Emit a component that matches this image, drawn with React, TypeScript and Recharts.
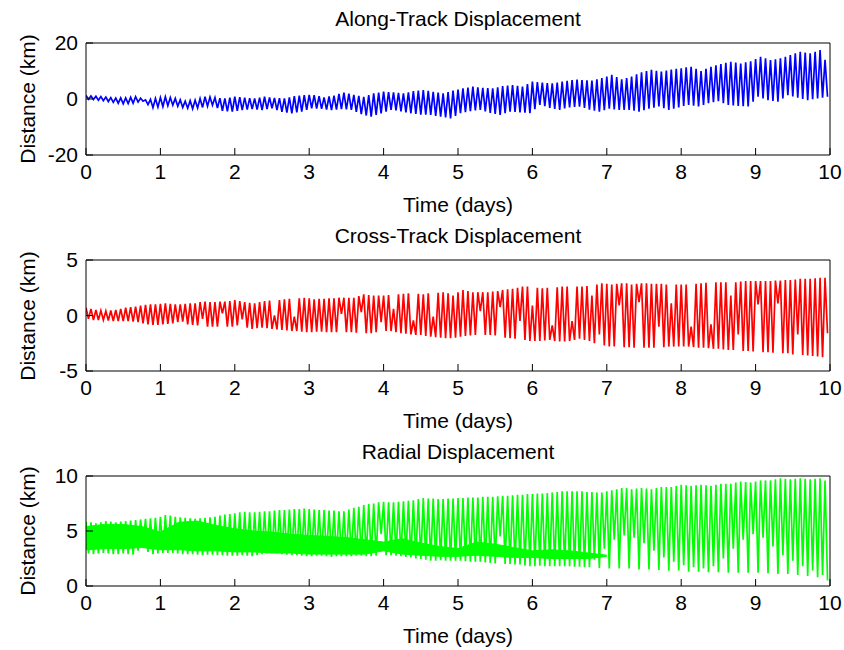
import { ComposedChart, Line, Area, XAxis, YAxis } from "recharts";

// tick labels
const dayTicks = [0, 1, 2, 3, 4, 5, 6, 7, 8, 9, 10];
const alongTicks = [-20, 0, 20];
const crossTicks = [-5, 0, 5];
const radialTicks = [0, 5, 10];

// one orbit = 1/15 day; per orbit the peak and the trough (km), 150 orbits
const alongHigh = [
  1.3, 1.1, 1.0, 0.9, 0.7, 0.5, 0.3, 0.4, 0.4, 0.6,
  0.8, 0.3, -0.3, -0.1, 0.2, 0.5, 0.8, 0.5, 0.2, -0.3,
  -0.8, -0.6, -0.4, 0.2, 0.8, 0.7, 0.5, 0.3, 0.2, 0.5,
  0.8, 0.7, 0.5, 0.3, 0.2, 0.5, 0.8, 0.6, 0.4, 0.3,
  0.2, 0.6, 1.0, 1.2, 1.4, 1.5, 1.4, 1.0, 0.6, 0.9,
  1.2, 1.8, 2.3, 1.9, 1.5, 1.1, 0.8, 1.4, 2.0, 2.3,
  2.6, 2.5, 2.4, 2.2, 2.0, 2.4, 2.8, 3.0, 3.2, 2.9,
  2.6, 2.3, 2.0, 2.5, 3.0, 3.4, 3.8, 4.1, 4.4, 4.2,
  4.0, 3.9, 3.8, 4.2, 4.6, 4.8, 5.0, 4.7, 4.4, 5.3,
  6.2, 6.0, 5.9, 5.7, 5.6, 5.9, 6.2, 6.5, 6.8, 6.9,
  6.8, 6.7, 6.6, 7.0, 7.5, 8.0, 8.6, 7.8, 7.0, 7.5,
  8.0, 8.8, 9.5, 10.0, 10.4, 10.1, 9.8, 10.2, 10.5, 10.8,
  11.0, 11.3, 11.5, 10.8, 10.0, 10.8, 11.5, 12.0, 12.5, 12.9,
  13.3, 13.0, 12.7, 13.1, 13.5, 14.3, 15.1, 14.5, 13.9, 14.2,
  14.5, 15.1, 15.7, 16.3, 16.9, 16.6, 16.3, 16.9, 17.5, 14.0,
];
const alongLow = [
  -0.1, -0.2, -0.4, -0.6, -0.9, -1.2, -1.5, -1.7, -1.6, -1.5,
  -1.1, -0.8, -2.0, -3.1, -2.9, -2.7, -2.4, -2.2, -2.6, -3.0,
  -3.3, -3.5, -3.2, -3.0, -2.6, -2.2, -3.2, -4.2, -4.4, -4.5,
  -4.2, -4.0, -3.8, -3.6, -3.8, -4.0, -3.6, -3.3, -4.0, -4.6,
  -4.9, -5.1, -4.8, -4.5, -3.9, -3.3, -3.4, -3.5, -3.8, -4.0,
  -3.8, -3.6, -3.7, -3.9, -4.6, -5.4, -5.9, -6.3, -5.7, -5.1,
  -4.5, -3.9, -4.1, -4.4, -4.8, -5.1, -5.3, -5.6, -5.6, -5.7,
  -6.0, -6.3, -6.6, -6.9, -6.0, -5.1, -4.7, -4.3, -4.1, -3.9,
  -4.4, -5.0, -5.3, -5.7, -5.1, -4.5, -4.6, -4.8, -4.9, -5.1,
  -3.6, -2.1, -2.6, -3.2, -3.5, -3.9, -3.4, -3.0, -2.8, -2.7,
  -3.2, -3.8, -4.2, -4.5, -4.0, -3.5, -3.7, -3.9, -3.9, -3.9,
  -4.2, -4.5, -4.0, -3.5, -3.1, -2.7, -3.3, -3.9, -3.5, -3.0,
  -2.5, -2.1, -2.4, -2.7, -2.1, -1.5, -1.1, -0.8, -1.5, -2.1,
  -2.3, -2.5, -2.6, -2.7, -1.0, 0.8, 0.2, -0.4, -0.7, -1.0,
  0.2, 1.4, 0.9, 0.5, 0.0, -0.4, -0.1, 0.2, 0.5, 0.8,
];

const crossHigh = [
  0.7, 0.6, 0.5, 0.45, 0.4, 0.45, 0.5, 0.6, 0.7, 0.75,
  0.8, 0.9, 0.95, 1.0, 1.0, 1.05, 1.1, 1.05, 1.0, 1.0,
  1.05, 1.1, 1.1, 1.2, 1.25, 1.2, 1.2, 1.25, 1.25, 1.3,
  1.4, 1.3, 1.2, 1.15, 1.1, 1.2, 1.3, 1.35, 0.0, 1.4,
  1.45, 1.5, -0.1, 1.55, 1.6, 1.55, 1.45, 1.5, 1.5, 1.55,
  1.55, 1.6, 1.6, 1.6, 1.6, 1.75, 1.9, 1.85, 1.8, 1.8,
  1.8, 1.85, 0.6, 1.9, 1.95, 2.0, -0.45, 1.95, 1.9, 2.0,
  -0.1, 2.05, 2.1, 2.0, 1.8, 2.1, 2.3, 2.2, 2.1, 2.1,
  2.1, 2.1, 2.15, 2.2, 2.3, 2.35, 2.4, 2.5, 2.6, 2.6,
  0.9, 2.5, 2.45, 2.5, -0.9, 2.55, 2.6, 2.6, -0.5, 2.6,
  2.6, 2.65, 1.8, 2.8, 2.9, 2.85, 2.8, 2.85, 2.9, 2.9,
  2.8, 2.85, 2.9, 2.9, 2.85, 2.85, 2.85, 2.8, 1.1, 2.8,
  2.8, 2.8, -1.0, 2.85, 2.9, 2.95, -0.8, 3.0, 3.0, 3.0,
  1.8, 3.0, 3.05, 3.1, 3.1, 3.1, 3.1, 3.1, 3.1, 3.15,
  3.15, 3.2, 3.2, 3.25, 3.3, 3.3, 3.3, 3.35, 3.4, 3.4,
];
const crossLow = [
  -0.3, -0.4, -0.4, -0.4, -0.45, -0.5, -0.5, -0.5, -0.5, -0.55,
  -0.6, -0.7, -0.8, -0.85, -0.85, -0.8, -0.75, -0.7, -0.6, -0.55,
  -0.8, -0.85, -0.9, -0.3, -1.0, -1.0, -1.0, 0.2, -1.0, -1.0,
  -0.9, -0.35, -1.1, -1.2, -1.15, -1.1, -1.15, -1.2, -1.25, -1.3,
  -1.35, -1.4, -1.4, -1.45, -1.5, -1.5, -1.45, -1.45, -1.5, -1.5,
  -1.5, 0.15, -1.5, -1.5, -1.55, 0.3, -1.6, -1.6, -1.5, -0.6,
  -1.4, -1.4, -1.5, -1.6, -1.65, -1.7, -1.75, -1.75, -1.85, -1.9,
  -1.95, -2.0, -2.05, -2.05, -2.0, -1.9, -1.85, -1.8, -1.75, 0.4,
  -1.75, -1.75, -1.8, 0.75, -2.0, -2.05, -2.1, -0.5, -2.2, -2.3,
  -2.3, -2.3, -2.25, -2.2, -2.3, -2.35, -2.35, -2.3, -2.2, -2.1,
  -2.2, -2.3, -2.5, -1.7, -2.7, -2.8, -2.8, 0.9, -2.85, -2.85,
  -2.9, 1.2, -2.9, -2.9, -2.9, -1.0, -2.85, -2.8, -2.8, -2.8,
  -2.8, -2.8, -2.85, -2.9, -2.9, -2.95, -3.0, -3.0, -3.05, -3.1,
  -3.1, -1.7, -3.2, -3.2, -3.25, 1.0, -3.3, -3.3, -3.35, 1.1,
  -3.4, -3.4, -3.5, -1.7, -3.55, -3.6, -3.65, -3.7, -3.75, -1.6,
];

const radialHigh = [
  5.85, 5.8, 5.7, 5.8, 5.9, 5.85, 5.8, 5.85, 5.9, 5.95,
  6.0, 6.05, 6.1, 6.15, 6.2, 6.3, 6.45, 6.4, 6.3, 6.25,
  6.2, 6.15, 6.1, 6.15, 6.2, 6.25, 6.3, 6.4, 6.5, 6.55,
  6.6, 6.7, 6.75, 6.7, 6.7, 6.75, 6.8, 6.8, 6.85, 6.9,
  6.9, 6.95, 7.0, 7.0, 7.05, 7.0, 6.95, 6.9, 6.9, 6.85,
  6.85, 6.8, 6.8, 6.95, 7.1, 7.2, 7.35, 7.45, 7.5, 7.6,
  7.65, 7.6, 7.6, 7.65, 7.7, 7.75, 7.8, 7.9, 8.0, 7.95,
  7.95, 7.9, 7.9, 7.95, 7.95, 8.0, 8.0, 8.05, 8.05, 8.05,
  8.1, 8.1, 8.1, 8.15, 8.2, 8.2, 8.25, 8.3, 8.3, 8.35,
  8.35, 8.4, 8.4, 8.45, 8.5, 8.55, 8.6, 8.6, 8.6, 8.6,
  8.6, 8.55, 8.55, 8.5, 8.5, 8.6, 8.7, 8.8, 8.9, 8.9,
  8.8, 8.85, 8.9, 8.85, 8.8, 8.9, 9.0, 9.0, 9.0, 9.1,
  9.2, 9.15, 9.1, 9.15, 9.2, 9.15, 9.1, 9.2, 9.3, 9.3,
  9.3, 9.4, 9.5, 9.45, 9.4, 9.5, 9.6, 9.6, 9.6, 9.7,
  9.8, 9.75, 9.7, 9.75, 9.8, 9.75, 9.7, 9.75, 9.8, 9.6,
];
const radialLow = [
  2.95, 2.9, 2.95, 3.0, 2.95, 2.9, 2.9, 2.95, 2.9, 2.85,
  3.2, 3.9, 3.1, 2.9, 2.95, 3.0, 3.0, 3.0, 2.95, 2.9,
  2.9, 2.9, 2.85, 2.8, 2.85, 2.85, 2.8, 2.8, 2.75, 2.75,
  2.75, 2.8, 2.75, 2.7, 2.8, 2.9, 2.95, 3.0, 2.95, 2.9,
  2.85, 2.8, 2.8, 2.75, 2.7, 2.7, 2.75, 2.75, 2.7, 2.65,
  2.7, 2.7, 2.7, 2.7, 2.75, 2.75, 2.7, 2.7, 2.75, 4.7,
  2.8, 2.8, 2.75, 2.7, 2.65, 2.6, 2.5, 2.45, 2.4, 2.3,
  2.3, 2.35, 2.3, 2.3, 2.3, 2.3, 2.25, 2.2, 2.2, 2.2,
  2.15, 2.1, 2.05, 4.5, 2.0, 2.0, 1.95, 1.95, 1.85, 1.8,
  1.8, 1.85, 1.8, 1.8, 1.8, 1.8, 1.8, 1.8, 1.75, 1.75,
  1.7, 1.7, 2.4, 1.65, 3.4, 1.6, 4.2, 1.6, 4.6, 1.6,
  4.4, 1.5, 3.9, 1.5, 3.2, 1.45, 2.6, 1.4, 2.2, 1.4,
  1.9, 1.3, 1.7, 1.3, 1.6, 1.25, 1.8, 1.25, 2.5, 1.2,
  3.4, 1.2, 4.2, 1.2, 4.7, 1.2, 4.4, 1.15, 3.6, 1.1,
  2.8, 1.1, 2.3, 1.0, 1.8, 0.9, 1.4, 0.8, 1.0, 0.5,
];

// dense overlapping band of the radial trace (days 0-7)
const bandDays = [
  0, 0.25, 0.5, 0.75, 1, 1.25, 1.5, 1.75, 2, 2.25, 2.5, 2.75, 3, 3.25, 3.5,
  3.75, 4, 4.25, 4.5, 4.75, 5, 5.25, 5.5, 5.75, 6, 6.25, 6.5, 6.75, 7,
];
const bandTop = [
  5.4, 5.6, 5.6, 5.4, 4.9, 5.8, 5.9, 5.5, 5.2, 5.0, 4.9, 4.7, 4.6, 4.5, 4.4,
  4.2, 4.0, 4.3, 3.9, 3.6, 3.4, 4.0, 3.8, 3.5, 3.2, 3.3, 3.2, 3.0, 2.8,
];
const bandBottom = [
  3.3, 3.4, 3.4, 3.5, 3.3, 3.3, 3.2, 3.2, 3.1, 3.1, 3.0, 3.0, 2.9, 2.9, 2.9,
  2.9, 3.2, 2.9, 2.8, 2.7, 2.7, 2.8, 2.7, 2.6, 2.6, 2.5, 2.5, 2.5, 2.7,
];

const FONT = '"Liberation Sans", Arial, Helvetica, sans-serif';
const FONT_SIZE = 21;
const CHART_H = 216;
const ORBIT = 1 / 15; // days

// peak at the start of each orbit, trough half an orbit later
const toSeries = (highs: number[], lows: number[]) =>
  highs.flatMap((h, i) => [
    { t: i * ORBIT, v: h },
    { t: (i + 0.5) * ORBIT, v: lows[i] },
  ]);

const bandData = bandDays.map((t, i) => ({ t, range: [bandBottom[i], bandTop[i]] }));

const textStyle: React.CSSProperties = {
  position: "absolute",
  fontFamily: FONT,
  fontSize: FONT_SIZE,
  lineHeight: 1,
  whiteSpace: "nowrap",
  color: "#000",
};

type PanelProps = {
  top: number;
  plotTop: number;
  plotHeight: number;
  title: string;
  highs: number[];
  lows: number[];
  color: string;
  domain: [number, number];
  ticks: number[];
  band?: { t: number; range: number[] }[];
};

function Panel({ top, plotTop, plotHeight, title, highs, lows, color, domain, ticks, band }: PanelProps) {
  const data = toSeries(highs, lows);
  const pageTop = top + plotTop;
  const axisStroke = { stroke: "#000", strokeWidth: 1 };
  return (
    <>
      <div style={{ position: "absolute", left: 0, top, width: 844, height: CHART_H }}>
        <ComposedChart
          width={844}
          height={CHART_H}
          margin={{ top: plotTop - 1, right: 13, bottom: CHART_H - plotTop - plotHeight - 40, left: 26 }}
        >
          <XAxis
            xAxisId="bottom"
            type="number"
            dataKey="t"
            domain={[0, 10]}
            allowDataOverflow
            ticks={dayTicks}
            interval={0}
            height={40}
            tickSize={-7}
            tickMargin={16}
            axisLine={axisStroke}
            tickLine={axisStroke}
            tick={{ fill: "#000", fontSize: FONT_SIZE, fontFamily: FONT }}
          />
          <XAxis
            xAxisId="top"
            orientation="top"
            type="number"
            domain={[0, 10]}
            allowDataOverflow
            ticks={dayTicks}
            interval={0}
            height={1}
            tickSize={-7}
            axisLine={axisStroke}
            tickLine={axisStroke}
            tick={false}
          />
          <YAxis
            yAxisId="left"
            type="number"
            domain={domain}
            allowDataOverflow
            ticks={ticks}
            interval={0}
            width={60}
            tickSize={-7}
            tickMargin={15}
            axisLine={axisStroke}
            tickLine={axisStroke}
            tick={{ fill: "#000", fontSize: FONT_SIZE, fontFamily: FONT }}
          />
          <YAxis
            yAxisId="right"
            orientation="right"
            type="number"
            domain={domain}
            allowDataOverflow
            ticks={ticks}
            interval={0}
            width={1}
            tickSize={-7}
            axisLine={axisStroke}
            tickLine={axisStroke}
            tick={false}
          />
          {band && (
            <Area
              xAxisId="bottom"
              yAxisId="left"
              data={band}
              dataKey="range"
              type="linear"
              stroke={color}
              strokeWidth={1}
              fill={color}
              fillOpacity={1}
              isAnimationActive={false}
            />
          )}
          <Line
            xAxisId="bottom"
            yAxisId="left"
            data={data}
            dataKey="v"
            type="linear"
            stroke={color}
            strokeWidth={1.7}
            dot={false}
            activeDot={false}
            isAnimationActive={false}
          />
        </ComposedChart>
      </div>
      <div style={{ ...textStyle, left: 458, top: pageTop - 25, transform: "translate(-50%, -50%)" }}>{title}</div>
      <div
        style={{
          ...textStyle,
          left: 27,
          top: pageTop + plotHeight / 2,
          transform: "translate(-50%, -50%) rotate(-90deg)",
        }}
      >
        Distance (km)
      </div>
      <div style={{ ...textStyle, left: 458, top: pageTop + plotHeight + 49, transform: "translate(-50%, -50%)" }}>
        Time (days)
      </div>
    </>
  );
}

export default function App() {
  return (
    <div style={{ position: "absolute", left: 0, top: 0, width: 844, height: 650, background: "#fff" }}>
      <Panel
        top={0}
        plotTop={43}
        plotHeight={112}
        title="Along-Track Displacement"
        highs={alongHigh}
        lows={alongLow}
        color="#0000ff"
        domain={[-20, 20]}
        ticks={alongTicks}
      />
      <Panel
        top={216}
        plotTop={44}
        plotHeight={111}
        title="Cross-Track Displacement"
        highs={crossHigh}
        lows={crossLow}
        color="#ff0000"
        domain={[-5, 5]}
        ticks={crossTicks}
      />
      <Panel
        top={432}
        plotTop={44}
        plotHeight={110}
        title="Radial Displacement"
        highs={radialHigh}
        lows={radialLow}
        color="#00ff00"
        domain={[0, 10]}
        ticks={radialTicks}
        band={bandData}
      />
    </div>
  );
}
